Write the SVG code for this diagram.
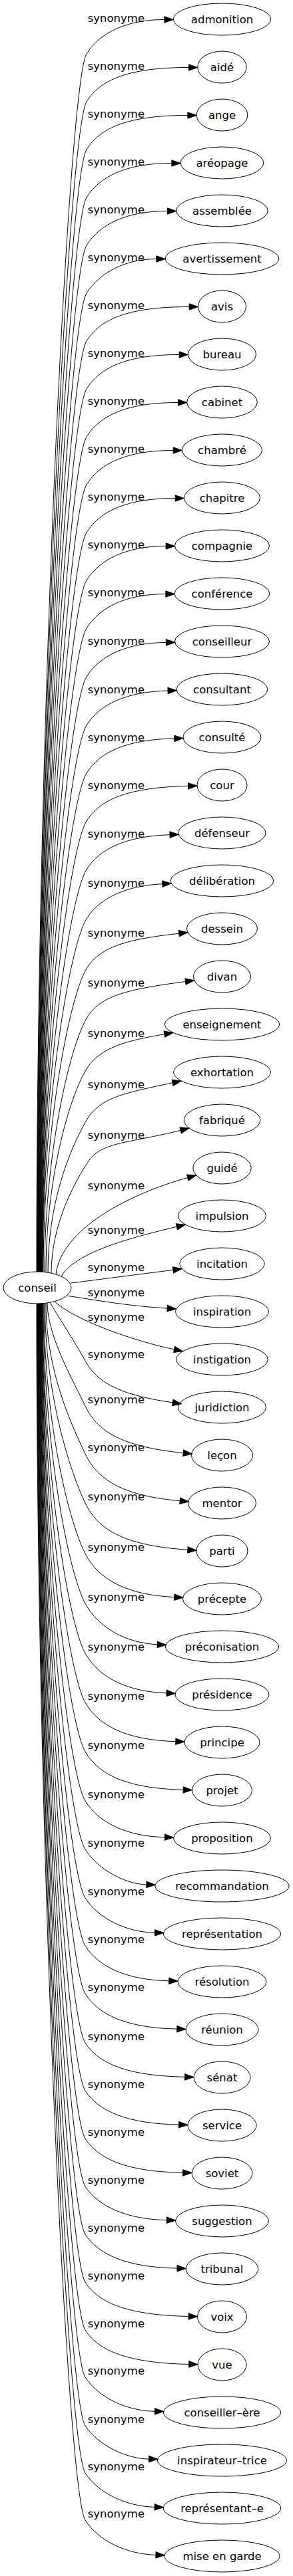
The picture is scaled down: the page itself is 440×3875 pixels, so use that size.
<svg xmlns="http://www.w3.org/2000/svg" width="440" height="3875" viewBox="0 0 440 3875">
<style>
.e path{fill:none;stroke:#000;stroke-width:1;marker-end:url(#arr)}
.n ellipse{fill:none;stroke:#000;stroke-width:1}
text{font-family:"DejaVu Sans",sans-serif;font-size:16.5px;text-anchor:middle;fill:#000}
</style>
<defs>
<marker id="arr" viewBox="0 0 14 10" refX="0.5" refY="5" markerWidth="14" markerHeight="10" markerUnits="userSpaceOnUse" orient="auto" overflow="visible"><path d="M0.5,0.33 L13.8,5 L0.5,9.67 Z" fill="#000" stroke="#000" stroke-width="1"/></marker>
</defs>
<rect width="440" height="3875" fill="#fff"/>
<g id="connectors" class="e">
<path d="M55,1913 C55,1088.6 103,124.5 130,81 C150,49 190,29.5 246.9,29.5"/><text x="174.4" y="33">synonyme</text>
<path d="M55.5,1913 C55.5,1121 103,196.5 130,153 C150,121 190,101.5 283.5,101.5"/><text x="174.4" y="105">synonyme</text>
<path d="M56,1913 C56,1153.4 103,268.5 130,225 C150,193 190,173.5 281.9,173.5"/><text x="174.4" y="177">synonyme</text>
<path d="M56.5,1913 C56.5,1185.8 103,340.5 130,297 C150,265 190,245.5 257.9,245.5"/><text x="174.4" y="249">synonyme</text>
<path d="M57,1913 C57,1218.2 103,412.5 130,369 C150,337 190,317.5 251.5,317.5"/><text x="174.4" y="321">synonyme</text>
<path d="M57.5,1913 C57.5,1250.6 103,484.5 130,441 C150,409 190,389.5 234.9,389.5"/><text x="174.4" y="393">synonyme</text>
<path d="M58,1913 C58,1283 103,556.5 130,513 C150,481 190,461.5 284.2,461.5"/><text x="174.4" y="465">synonyme</text>
<path d="M58.5,1913 C58.5,1315.4 103,628.5 130,585 C150,553 190,533.5 269.2,533.5"/><text x="174.4" y="537">synonyme</text>
<path d="M59,1913 C59,1347.8 103,700.5 130,657 C150,625 190,605.5 267.4,605.5"/><text x="174.4" y="609">synonyme</text>
<path d="M59.5,1913 C59.5,1380.2 103,772.5 130,729 C150,697 190,677.5 260.2,677.5"/><text x="174.4" y="681">synonyme</text>
<path d="M60,1913 C60,1412.6 103,844.5 130,801 C150,769 190,749.5 263.2,749.5"/><text x="174.4" y="753">synonyme</text>
<path d="M60.5,1913 C60.5,1445 103,916.5 130,873 C150,841 190,821.5 249.2,821.5"/><text x="174.4" y="825">synonyme</text>
<path d="M61,1913 C61,1477.4 103,988.5 130,945 C150,913 190,893.5 248.9,893.5"/><text x="174.4" y="897">synonyme</text>
<path d="M61.5,1913 C61.5,1510.3 103,1061.5 130,1018 C150,986 190,967.1 249.3,966.4"/><text x="174.4" y="970">synonyme</text>
<path d="M62,1913 C62,1543.1 103,1134.5 130,1091 C150,1059 190,1040.6 252.1,1039"/><text x="174.4" y="1043">synonyme</text>
<path d="M62.5,1913 C62.5,1575.5 103,1206.5 130,1163 C150,1131 190,1112.6 261.8,1110.8"/><text x="174.4" y="1115">synonyme</text>
<path d="M63,1913.2 C63,1608 103,1278.5 130,1235 C150,1203 190,1184.6 282.7,1182.3"/><text x="174.4" y="1187">synonyme</text>
<path d="M63.5,1913.3 C63.5,1641.3 103,1351.5 130,1308 C150,1276 190,1257.9 255,1255.7"/><text x="174.4" y="1260">synonyme</text>
<path d="M64,1913.3 C64,1674.3 103,1425.5 130,1382 C150,1350 190,1332.4 243.9,1329.6"/><text x="174.4" y="1334">synonyme</text>
<path d="M65,1913.5 C65,1708.1 103,1501.2 130,1457 C150,1424.3 190,1412.9 268.8,1404.2"/><text x="174.4" y="1409">synonyme</text>
<path d="M67,1913.7 C67,1741.9 103,1578.5 130,1532 C150,1497.6 190,1488.5 278.5,1476.5"/><text x="174.4" y="1484">synonyme</text>
<path d="M69,1913.9 C69,1776.2 103,1651.8 130,1608 C150,1575.6 190,1565.4 247,1555.7"/><text x="174.4" y="1560">synonyme</text>
<path d="M72,1914.2 C72,1811.2 103,1732 130,1685 C150,1650.2 190,1643.6 259.2,1628.8"/><text x="174.4" y="1637">synonyme</text>
<path d="M77,1915.1 C77,1840 114,1775.5 132,1748 C152,1717.4 190,1720.5 271.2,1700.4"/><text x="174.4" y="1713">synonyme</text>
<path d="M84,1916.9 C92,1850 190,1797.3 281.8,1771.5"/><text x="174.4" y="1789">synonyme</text>
<path d="M92,1920 C112,1885 190,1863.2 265.4,1845.3"/><text x="174.4" y="1856">synonyme</text>
<path d="M107,1930 C150,1924.5 200,1918 260,1910.4"/><text x="174.4" y="1912">synonyme</text>
<path d="M101.7,1949.3 C140,1955 190,1964.4 251.2,1968.1"/><text x="174.4" y="1950">synonyme</text>
<path d="M82,1957.6 C110,1985 200,2017 261.6,2029.9"/><text x="174.4" y="1987">synonyme</text>
<path d="M75,1959.3 C92.7,1988.5 118,2028.2 128,2047 C148,2084.7 190,2099.5 259.3,2109.9"/><text x="174.4" y="2043">synonyme</text>
<path d="M71,1959.9 C71,2010 112,2081 128,2115 C148,2157.4 190,2176.7 275.2,2185.7"/><text x="174.4" y="2111">synonyme</text>
<path d="M69,1960.2 C69,2062.3 108,2144.6 128,2187 C148,2229.4 190,2250.5 270.2,2257.7"/><text x="174.4" y="2183">synonyme</text>
<path d="M67.5,1960.4 C67.5,2095.7 104,2210.4 128,2261 C148,2303.2 190,2325.1 281.9,2331.3"/><text x="174.4" y="2257">synonyme</text>
<path d="M66,1960.5 C66,2129.9 101,2283.8 128,2337 C148,2376.4 190,2398.9 261.7,2402.6"/><text x="174.4" y="2333">synonyme</text>
<path d="M65,1960.6 C65,2163.7 101,2361.9 128,2412 C148,2449.1 190,2471.8 236.3,2473.8"/><text x="174.4" y="2408">synonyme</text>
<path d="M64,1960.7 C64,2197.5 101,2438.5 128,2487 C148,2522.9 190,2544.6 250.1,2546.9"/><text x="174.4" y="2483">synonyme</text>
<path d="M63.5,1960.8 C63.5,2230.9 101,2513.5 128,2561 C148,2596.2 190,2617.5 263.8,2619.7"/><text x="174.4" y="2557">synonyme</text>
<path d="M63,1960.8 C63,2264.2 101,2588.6 128,2635 C148,2669.4 190,2690.4 275.2,2692.3"/><text x="174.4" y="2631">synonyme</text>
<path d="M62.5,1960.8 C62.5,2297.5 101,2664.7 128,2709 C148,2741.8 190,2762.4 247.4,2763.7"/><text x="174.4" y="2705">synonyme</text>
<path d="M62,1960.8 C62,2330.3 101,2739.1 128,2782 C148,2813.8 190,2834.4 220,2835"/><text x="174.4" y="2778">synonyme</text>
<path d="M61.5,1960.9 C61.5,2363.2 101,2812.6 128,2855 C148,2886.4 190,2906.5 232.5,2907.3"/><text x="174.4" y="2851">synonyme</text>
<path d="M61,1960.9 C61,2395.6 101,2884.2 128,2927 C148,2958.7 190,2978.5 253.8,2979.8"/><text x="174.4" y="2923">synonyme</text>
<path d="M60.5,1960.9 C60.5,2428 101,2956 128,2999 C148,3030.9 190,3050.6 265.8,3052.1"/><text x="174.4" y="2995">synonyme</text>
<path d="M60,1960.9 C60,2461.3 101,3031.4 128,3073 C148,3103.8 190,3122.5 277.7,3124.3"/><text x="174.4" y="3069">synonyme</text>
<path d="M59.5,1960.9 C59.5,2493.7 101,3103.6 128,3145 C148,3175.7 190,3194.6 268.7,3196.1"/><text x="174.4" y="3141">synonyme</text>
<path d="M59,1960.9 C59,2526.1 101,3175.4 128,3217 C148,3247.8 190,3266.8 274.7,3268.3"/><text x="174.4" y="3213">synonyme</text>
<path d="M58.5,1960.9 C58.5,2558.5 101,3247.9 128,3289 C148,3319.4 190,3338.3 250.4,3339.7"/><text x="174.4" y="3285">synonyme</text>
<path d="M58,1961 C58,2591 101,3319.6 128,3361 C148,3391.7 190,3410.6 266,3412.1"/><text x="174.4" y="3357">synonyme</text>
<path d="M57.5,1961 C57.5,2623.4 101,3391.3 128,3433 C148,3463.9 190,3482.4 283.2,3484.5"/><text x="174.4" y="3429">synonyme</text>
<path d="M57,1961 C57,2655.8 101,3463.3 128,3505 C148,3535.9 190,3554.4 283.7,3556.5"/><text x="174.4" y="3501">synonyme</text>
<path d="M56.5,1961 C56.5,2687.8 101,3534.4 128,3576 C148,3606.8 190,3626.5 232.5,3627.3"/><text x="174.4" y="3572">synonyme</text>
<path d="M56,1961 C56,2720.6 101,3608.4 128,3649 C148,3679.1 190,3698.5 223.6,3699.1"/><text x="174.4" y="3645">synonyme</text>
<path d="M55.5,1961 C55.5,2752.6 101,3678.4 128,3720 C148,3750.8 190,3770.3 232.2,3771.3"/><text x="174.4" y="3716">synonyme</text>
<path d="M55,1961 C55,2784.5 101,3748.6 128,3791 C148,3822.4 190,3842 234,3843.4"/><text x="174.4" y="3787">synonyme</text>
</g>
<g id="conseil" class="n"><ellipse cx="56" cy="1937" rx="51" ry="24"/><text x="56" y="1943">conseil</text></g>
<g id="n0" class="n"><ellipse cx="333.5" cy="29" rx="73.3" ry="24"/><text x="333.5" y="35">admonition</text></g>
<g id="n1" class="n"><ellipse cx="333.5" cy="101" rx="36.7" ry="24"/><text x="333.5" y="107">aidé</text></g>
<g id="n2" class="n"><ellipse cx="333.5" cy="173" rx="38.3" ry="24"/><text x="333.5" y="179">ange</text></g>
<g id="n3" class="n"><ellipse cx="333.5" cy="245" rx="62.3" ry="24"/><text x="333.5" y="251">aréopage</text></g>
<g id="n4" class="n"><ellipse cx="333.5" cy="317" rx="68.7" ry="24"/><text x="333.5" y="323">assemblée</text></g>
<g id="n5" class="n"><ellipse cx="333.5" cy="389" rx="85.3" ry="24"/><text x="333.5" y="395">avertissement</text></g>
<g id="n6" class="n"><ellipse cx="333.5" cy="461" rx="36" ry="24"/><text x="333.5" y="467">avis</text></g>
<g id="n7" class="n"><ellipse cx="333.5" cy="533" rx="51" ry="24"/><text x="333.5" y="539">bureau</text></g>
<g id="n8" class="n"><ellipse cx="333.5" cy="605" rx="52.8" ry="24"/><text x="333.5" y="611">cabinet</text></g>
<g id="n9" class="n"><ellipse cx="333.5" cy="677" rx="60" ry="24"/><text x="333.5" y="683">chambré</text></g>
<g id="n10" class="n"><ellipse cx="333.5" cy="749" rx="57" ry="24"/><text x="333.5" y="755">chapitre</text></g>
<g id="n11" class="n"><ellipse cx="333.5" cy="821" rx="71" ry="24"/><text x="333.5" y="827">compagnie</text></g>
<g id="n12" class="n"><ellipse cx="333.5" cy="893" rx="71.3" ry="24"/><text x="333.5" y="899">conférence</text></g>
<g id="n13" class="n"><ellipse cx="333.5" cy="965" rx="71" ry="24"/><text x="333.5" y="971">conseilleur</text></g>
<g id="n14" class="n"><ellipse cx="333.5" cy="1037" rx="68.3" ry="24"/><text x="333.5" y="1043">consultant</text></g>
<g id="n15" class="n"><ellipse cx="333.5" cy="1109" rx="58.5" ry="24"/><text x="333.5" y="1115">consulté</text></g>
<g id="n16" class="n"><ellipse cx="333.5" cy="1181" rx="37.5" ry="24"/><text x="333.5" y="1187">cour</text></g>
<g id="n17" class="n"><ellipse cx="333.5" cy="1253" rx="65.5" ry="24"/><text x="333.5" y="1259">défenseur</text></g>
<g id="n18" class="n"><ellipse cx="333.5" cy="1325" rx="77.3" ry="24"/><text x="333.5" y="1331">délibération</text></g>
<g id="n19" class="n"><ellipse cx="333.5" cy="1397" rx="53" ry="24"/><text x="333.5" y="1403">dessein</text></g>
<g id="n20" class="n"><ellipse cx="333.5" cy="1469" rx="43" ry="24"/><text x="333.5" y="1475">divan</text></g>
<g id="n21" class="n"><ellipse cx="333.5" cy="1541" rx="86" ry="24"/><text x="333.5" y="1547">enseignement</text></g>
<g id="n22" class="n"><ellipse cx="333.5" cy="1613" rx="73" ry="24"/><text x="333.5" y="1619">exhortation</text></g>
<g id="n23" class="n"><ellipse cx="333.5" cy="1685" rx="57.3" ry="24"/><text x="333.5" y="1691">fabriqué</text></g>
<g id="n24" class="n"><ellipse cx="333.5" cy="1757" rx="43.7" ry="24"/><text x="333.5" y="1763">guidé</text></g>
<g id="n25" class="n"><ellipse cx="333.5" cy="1829" rx="66" ry="24"/><text x="333.5" y="1835">impulsion</text></g>
<g id="n26" class="n"><ellipse cx="333.5" cy="1901" rx="63.7" ry="24"/><text x="333.5" y="1907">incitation</text></g>
<g id="n27" class="n"><ellipse cx="333.5" cy="1973" rx="70" ry="24"/><text x="333.5" y="1979">inspiration</text></g>
<g id="n28" class="n"><ellipse cx="333.5" cy="2045" rx="68.7" ry="24"/><text x="333.5" y="2051">instigation</text></g>
<g id="n29" class="n"><ellipse cx="333.5" cy="2117" rx="66" ry="24"/><text x="333.5" y="2123">juridiction</text></g>
<g id="n30" class="n"><ellipse cx="333.5" cy="2189" rx="46" ry="24"/><text x="333.5" y="2195">leçon</text></g>
<g id="n31" class="n"><ellipse cx="333.5" cy="2261" rx="51" ry="24"/><text x="333.5" y="2267">mentor</text></g>
<g id="n32" class="n"><ellipse cx="333.5" cy="2333" rx="38.5" ry="24"/><text x="333.5" y="2339">parti</text></g>
<g id="n33" class="n"><ellipse cx="333.5" cy="2405" rx="59" ry="24"/><text x="333.5" y="2411">précepte</text></g>
<g id="n34" class="n"><ellipse cx="333.5" cy="2477" rx="85" ry="24"/><text x="333.5" y="2483">préconisation</text></g>
<g id="n35" class="n"><ellipse cx="333.5" cy="2549" rx="70.5" ry="24"/><text x="333.5" y="2555">présidence</text></g>
<g id="n36" class="n"><ellipse cx="333.5" cy="2621" rx="56.5" ry="24"/><text x="333.5" y="2627">principe</text></g>
<g id="n37" class="n"><ellipse cx="333.5" cy="2693" rx="45" ry="24"/><text x="333.5" y="2699">projet</text></g>
<g id="n38" class="n"><ellipse cx="333.5" cy="2765" rx="73" ry="24"/><text x="333.5" y="2771">proposition</text></g>
<g id="n39" class="n"><ellipse cx="333.5" cy="2837" rx="100.6" ry="24"/><text x="333.5" y="2843">recommandation</text></g>
<g id="n40" class="n"><ellipse cx="333.5" cy="2909" rx="88" ry="24"/><text x="333.5" y="2915">représentation</text></g>
<g id="n41" class="n"><ellipse cx="333.5" cy="2981" rx="66.5" ry="24"/><text x="333.5" y="2987">résolution</text></g>
<g id="n42" class="n"><ellipse cx="333.5" cy="3053" rx="54.5" ry="24"/><text x="333.5" y="3059">réunion</text></g>
<g id="n43" class="n"><ellipse cx="333.5" cy="3125" rx="42.5" ry="24"/><text x="333.5" y="3131">sénat</text></g>
<g id="n44" class="n"><ellipse cx="333.5" cy="3197" rx="51.6" ry="24"/><text x="333.5" y="3203">service</text></g>
<g id="n45" class="n"><ellipse cx="333.5" cy="3269" rx="45.5" ry="24"/><text x="333.5" y="3275">soviet</text></g>
<g id="n46" class="n"><ellipse cx="333.5" cy="3341" rx="70" ry="24"/><text x="333.5" y="3347">suggestion</text></g>
<g id="n47" class="n"><ellipse cx="333.5" cy="3413" rx="54.3" ry="24"/><text x="333.5" y="3419">tribunal</text></g>
<g id="n48" class="n"><ellipse cx="333.5" cy="3485" rx="37" ry="24"/><text x="333.5" y="3491">voix</text></g>
<g id="n49" class="n"><ellipse cx="333.5" cy="3557" rx="36.5" ry="24"/><text x="333.5" y="3563">vue</text></g>
<g id="n50" class="n"><ellipse cx="333.5" cy="3629" rx="88" ry="24"/><text x="333.5" y="3635">conseiller–ère</text></g>
<g id="n51" class="n"><ellipse cx="333.5" cy="3701" rx="97" ry="24"/><text x="333.5" y="3707">inspirateur–trice</text></g>
<g id="n52" class="n"><ellipse cx="333.5" cy="3773" rx="88.3" ry="24"/><text x="333.5" y="3779">représentant–e</text></g>
<g id="n53" class="n"><ellipse cx="333.5" cy="3845" rx="86.5" ry="24"/><text x="333.5" y="3851">mise en garde</text></g>
</svg>
